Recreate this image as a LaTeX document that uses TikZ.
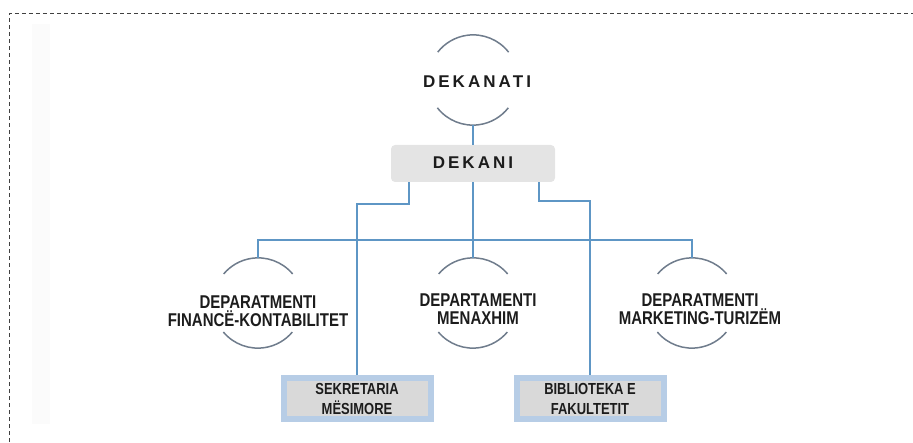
\documentclass[tikz,border=0pt]{standalone}
\usepackage{fontspec}
\setmainfont{Liberation Sans}
\newfontfamily\narrowfont[FakeStretch=0.81]{Liberation Sans}
\newfontfamily\spacedfont[LetterSpace=18]{Liberation Sans}
\usepackage{tikz}
\usetikzlibrary{backgrounds}

\definecolor{linkblue}{HTML}{5E96C5}
\definecolor{ringgray}{HTML}{6F7C8C}
\definecolor{boxblue}{HTML}{B7CDE6}
\definecolor{boxgray}{HTML}{D9D9D9}
\definecolor{headgray}{HTML}{E4E4E4}
\definecolor{txtdark}{HTML}{1C1C1C}

\tikzset{
  ring/.style={circle, minimum size=90pt, inner sep=0pt},
  ringarc/.style={draw=ringgray, line width=1.5pt},
  link/.style={draw=linkblue, line width=2pt},
  unitlabel/.style={text=txtdark, align=center, font=\narrowfont\bfseries\fontsize{18.5}{18}\selectfont},
  headlabel/.style={text=txtdark, font=\spacedfont\bfseries\fontsize{17}{18}\selectfont},
  headbox/.style={fill=headgray, rounded corners=4pt, minimum width=164pt, minimum height=37pt},
  officebox/.style={draw=boxblue, line width=6pt, fill=boxgray, minimum width=147pt, minimum height=41pt,
    text=txtdark, align=center, font=\narrowfont\bfseries\fontsize{16}{20}\selectfont}
}

\begin{document}
\begin{tikzpicture}[x=1pt,y=1pt]
\useasboundingbox (0,0) rectangle (913,442);
\fill[gray!3] (32,18) rectangle (50,418);
\draw[black!75, line width=1pt, dash pattern=on 4pt off 3pt] (9,0) -- (9,428) -- (913,428);

\node[ring] (dekanati) at (473,362) {};
\node[headlabel] (dekanatitxt) at ([xshift=4pt,yshift=-2pt]dekanati.center) {DEKANATI};
\draw[ringarc] (dekanati.38) arc (38:142:45);
\draw[ringarc] (dekanati.218) arc (218:322:45);

\node[headbox] (dekani) at (473,278.5) {};
\node[headlabel] (dekanitxt) at ([xshift=0pt,yshift=1pt]dekani.center) {DEKANI};

\node[ring] (finance) at (258,139) {};
\node[ring] (menaxhim) at (473,139) {};
\node[ring] (marketing) at (692,139) {};
\foreach \n in {finance,menaxhim,marketing}{
  \draw[ringarc] (\n.40) arc (40:140:45);
  \draw[ringarc] (\n.220) arc (220:320:45);
}
\node[unitlabel] (financetxt) at ([yshift=-8pt]finance.center) {DEPARATMENTI\\FINANCË-KONTABILITET};
\node[unitlabel] (menaxhimtxt) at ([xshift=5pt,yshift=-6pt]menaxhim.center) {DEPARTAMENTI\\MENAXHIM};
\node[unitlabel] (marketingtxt) at ([xshift=8pt,yshift=-6pt]marketing.center) {DEPARATMENTI\\MARKETING-TURIZËM};

\node[officebox] (sekretaria) at (357,43.5) {SEKRETARIA\\MËSIMORE};
\node[officebox] (biblioteka) at (590,43.5) {BIBLIOTEKA E\\FAKULTETIT};

\draw[link] (dekanati.south) -- (dekani.north);
\draw[link] (dekani.south) -- (menaxhim.north);
\draw[link] ([xshift=-64pt]dekani.south) -- ++(0,-22) -| (sekretaria.north);
\draw[link] ([xshift=66pt]dekani.south) -- ++(0,-19) -| (biblioteka.north);
\draw[link] (finance.north) -- ++(0,18) -| (marketing.north);
\end{tikzpicture}
\end{document}
